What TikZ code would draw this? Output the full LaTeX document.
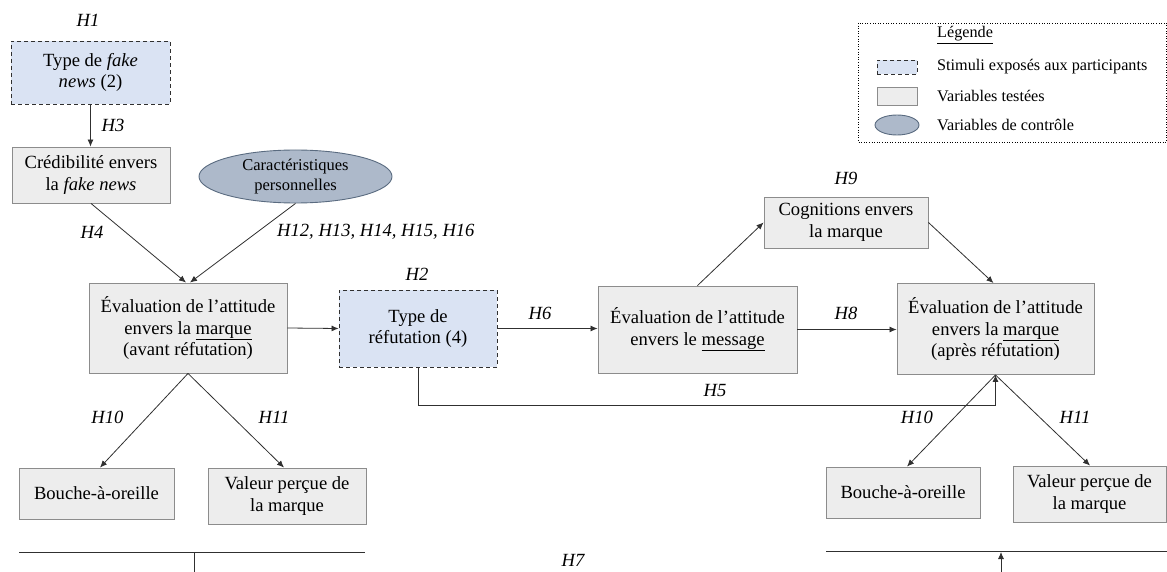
\documentclass[tikz,border=0pt]{standalone}
\usepackage{fontspec}
\setmainfont{Liberation Serif}
\usetikzlibrary{arrows.meta,shapes.geometric}
\definecolor{stimfill}{HTML}{DAE3F3}
\definecolor{varfill}{HTML}{EDEDED}
\definecolor{ctrlfill}{HTML}{ADB9CA}
\definecolor{ctrldraw}{HTML}{5A6B80}
\definecolor{edgec}{HTML}{8C8C8C}
\definecolor{linec}{HTML}{303030}
\tikzset{
  basetxt/.style={font=\fontsize{18.6}{21.6}\selectfont, align=center, inner sep=0pt},
  varbox/.style={basetxt, rectangle, draw=edgec, fill=varfill, line width=0.9pt},
  stimbox/.style={basetxt, rectangle, draw=linec, fill=stimfill, line width=0.9pt, dash pattern=on 4pt off 3pt},
  ctrlell/.style={ellipse, draw=ctrldraw, fill=ctrlfill, line width=0.9pt, inner sep=0pt, align=center, font=\fontsize{16.5}{20.7}\selectfont},
  hyp/.style={font=\fontsize{18.6}{21}\selectfont\itshape, inner sep=0pt},
  legtxt/.style={font=\fontsize{16.2}{19}\selectfont, anchor=west, inner sep=0pt},
  arr/.style={draw=linec, line width=0.8pt, -{Latex[length=7pt,width=6pt]}},
  plain/.style={draw=linec, line width=0.8pt}
}
\begin{document}
\begin{tikzpicture}[x=1pt,y=-1pt]
\useasboundingbox (0,0) rectangle (1167,572);

% legend
\draw[black, line width=0.6pt, dotted] (858,23) rectangle (1166.5,142);
\node[legtxt] (lgt) at (937,35) {\underline{Légende}};
\node[stimbox, minimum width=40, minimum height=14] (lg1) at (897,67) {};
\node[legtxt] (lg1t) at (937,67) {Stimuli exposés aux participants};
\node[varbox, minimum width=40, minimum height=18] (lg2) at (897,96) {};
\node[legtxt] (lg2t) at (937,96) {Variables testées};
\node[ctrlell, minimum width=44, minimum height=20] (lg3) at (897,125) {};
\node[legtxt] (lg3t) at (937,125) {Variables de contrôle};

% boxes
\node[stimbox, minimum width=159, minimum height=63] (fake) at (90.5,72.5) {Type de \textit{fake}\\\textit{news} (2)};
\node[varbox, minimum width=158, minimum height=56] (cred) at (91,175) {Crédibilité envers\\la \textit{fake news}};
\node[ctrlell, minimum width=193, minimum height=53] (perso) at (295.5,176.5) {Caractéristiques\\personnelles};
\node[varbox, minimum width=198, minimum height=90] (evalA) at (188,328) {Évaluation de l’attitude\\envers la \underline{marque}\\(avant réfutation)};
\node[stimbox, minimum width=158, minimum height=77] (refut) at (418,328.5) {Type de\\réfutation (4)};
\node[varbox, minimum width=199, minimum height=87] (msg) at (697.5,329.5) {Évaluation de l’attitude\\envers le \underline{message}};
\node[varbox, minimum width=164, minimum height=51] (cogn) at (846,222.5) {Cognitions envers\\la marque};
\node[varbox, minimum width=197, minimum height=91] (evalB) at (995.5,329) {Évaluation de l’attitude\\envers la \underline{marque}\\(après réfutation)};
\node[varbox, minimum width=155, minimum height=51] (boucheA) at (96.5,493.5) {Bouche-à-oreille};
\node[varbox, minimum width=158, minimum height=56] (valeurA) at (287,496) {Valeur perçue de\\la marque};
\node[varbox, minimum width=154, minimum height=51] (boucheB) at (903,492.5) {Bouche-à-oreille};
\node[varbox, minimum width=153, minimum height=56] (valeurB) at (1089.5,494) {Valeur perçue de\\la marque};

% hypothesis labels
\node[hyp] (h1) at (88,20) {H1};
\node[hyp] (h3) at (113,125) {H3};
\node[hyp] (h4) at (92,232) {H4};
\node[hyp, anchor=west] (h12) at (277,232) {H12, H13, H14, H15, H16};
\node[hyp] (h2) at (417,274) {H2};
\node[hyp] (h6) at (540,313) {H6};
\node[hyp] (h9) at (846,178) {H9};
\node[hyp] (h8) at (846,313) {H8};
\node[hyp] (h5) at (715,390) {H5};
\node[hyp] (h10a) at (107.5,417) {H10};
\node[hyp] (h11a) at (274,417) {H11};
\node[hyp] (h10b) at (917,417) {H10};
\node[hyp] (h11b) at (1075,417) {H11};
\node[hyp] (h7) at (573,560) {H7};

% connectors
\draw[arr] (fake.south) -- (cred.north -| fake.south);
\draw[arr] (cred.south) -- ([xshift=-2pt]evalA.north);
\draw[arr] (perso.south) -- ([xshift=2pt]evalA.north);
\draw[arr] (evalA.east) -- (refut.west);
\draw[arr] (refut.east) -- (msg.west |- refut.east);
\draw[arr] (msg.east) -- (evalB.west |- msg.east);
\draw[arr] (msg.north) -- (cogn.west);
\draw[arr] (cogn.east) -- ([xshift=-2pt]evalB.north);
\coordinate (h5turn) at (995.5,405);
\draw[arr] (refut.south) |- (h5turn) -- (evalB.south);
\draw[arr] (evalA.south) -- ([xshift=3.5pt]boucheA.north);
\draw[arr] (evalA.south) -- ([xshift=-3pt]valeurA.north);
\draw[arr] (evalB.south) -- ([xshift=4pt]boucheB.north);
\draw[arr] (evalB.south) -- ([xshift=0.5pt]valeurB.north);

% H7 fragments
\coordinate (bl1) at (19,552);
\coordinate (bl2) at (365,552);
\coordinate (bl3) at (194,552);
\coordinate (bl4) at (194,572);
\draw[plain] (bl1) -- (bl2);
\draw[plain] (bl3) -- (bl4);
\coordinate (br1) at (826,551);
\coordinate (br2) at (1167,551);
\coordinate (br3) at (1001,572);
\coordinate (br4) at (1001,552);
\draw[plain] (br1) -- (br2);
\draw[arr] (br3) -- (br4);
\end{tikzpicture}
\end{document}
